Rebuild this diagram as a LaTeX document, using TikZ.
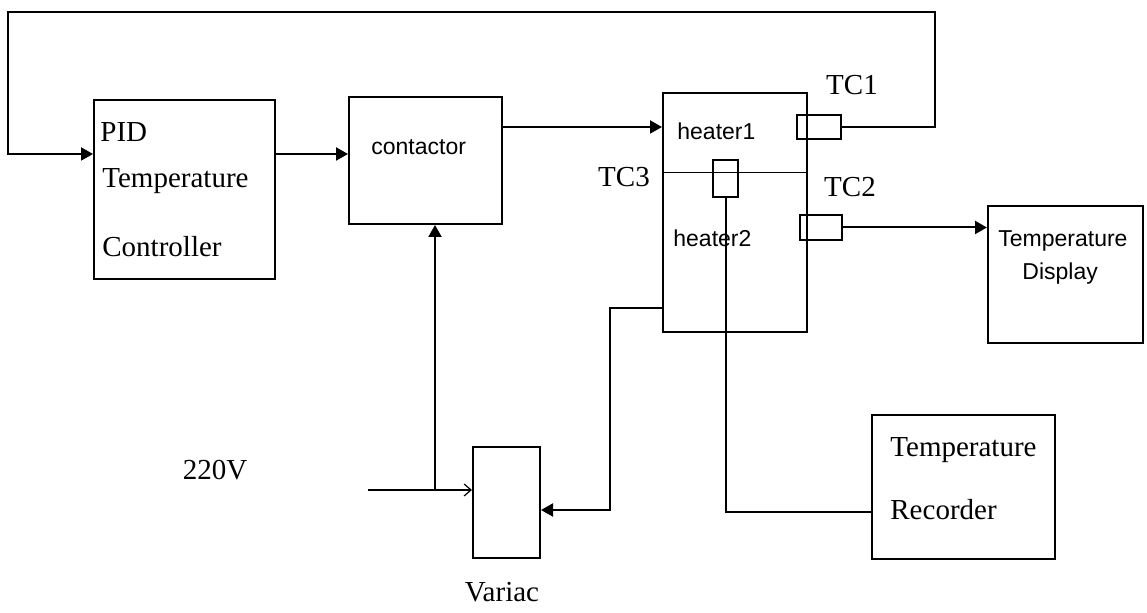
\documentclass[tikz,border=0pt]{standalone}
\usepackage{fontspec}
\setmainfont{Liberation Serif}
\setsansfont{Liberation Sans}
\usetikzlibrary{arrows.meta, positioning, calc}
\tikzset{
  % Equipment boxes
  block/.style 2 args={
    draw=black, line width=1pt, inner sep=0pt,
    minimum width=#1, minimum height=#2,
  },
  % Thermocouple boxes
  sensor/.style 2 args={
    draw=black, line width=0.9pt, inner sep=0pt,
    minimum width=#1, minimum height=#2,
  },
  % Texts
  serif lbl/.style={font=\fontsize{14.5}{16}\selectfont\rmfamily, inner sep=0pt},
  sans lbl/.style={font=\fontsize{11.5}{13}\selectfont\sffamily, inner sep=0pt},
  % Wires
  wire/.style={line width=1pt, black},
  pipe/.style={wire, -{Triangle[length=6pt, width=6.5pt]}},
  mains/.style={line width=0.6pt, black, -{Straight Barb[length=3.5pt, width=6pt]}},
}

\begin{document}
\begin{tikzpicture}[x=0.5pt, y=-0.5pt]

\useasboundingbox[fill=white] (0,0) rectangle (1147,613);

% ====================================================================
% Boxes
% ====================================================================
\node[block={90.5pt}{89.5pt}] (pid) at (184.5,189.5) {};
\node[serif lbl, anchor=base west] at (100,142) {PID};
\node[serif lbl, anchor=base west] at (102,188) {Temperature};
\node[serif lbl, anchor=base west] at (102,257) {Controller};

\node[block={76.5pt}{63.5pt}] (cont) at (425.5,160.5) {};
\node[sans lbl, anchor=base west] at (371,155) {contactor};

\node[block={72pt}{119.5pt}] (heater) at (735,212.5) {};
\coordinate (divl) at (663,173);
\coordinate (divr) at (806,173);
\draw[line width=0.5pt] (divl) -- (divr);
\node[sans lbl, anchor=base west] at (677,140) {heater1};
\node[sans lbl, anchor=base west] at (673,247) {heater2};

\node[block={77.5pt}{68.5pt}] (display) at (1065.5,274.5) {};
\node[sans lbl, anchor=base west] at (998,247) {Temperature};
\node[sans lbl, anchor=base west] at (1022,280) {Display};

\node[block={91.5pt}{72pt}] (recorder) at (963.5,487) {};
\node[serif lbl, anchor=base west] at (890,457) {Temperature};
\node[serif lbl, anchor=base west] at (890,520) {Recorder};

\node[block={33.5pt}{55.5pt}] (variac) at (506.5,502.5) {};
\node[serif lbl] (variaclbl) at (502,592) {Variac};

% ====================================================================
% Thermocouples
% ====================================================================
\node[sensor={22pt}{12pt}] (tcone) at (819,127) {};
\node[sensor={21pt}{12.5pt}] (tctwo) at (821,227.5) {};
\node[sensor={12.5pt}{18.5pt}] (tcthree) at (725.5,178.5) {};
\node[serif lbl] at (852,85) {TC1};
\node[serif lbl] at (850,187) {TC2};
\node[serif lbl] at (624,177) {TC3};

% ====================================================================
% Wires
% ====================================================================
% feedback loop TC1 -> controller
\coordinate (fbr) at (935,12);
\coordinate (fbl) at (8,154);
\draw[pipe] (tcone.east) -| (fbr) -| (fbl) -- (fbl -| pid.west);

\draw[pipe] (pid.east |- fbl) -- (cont.west |- fbl);
\draw[pipe] (cont.east |- tcone) -- (heater.west |- tcone);
\draw[pipe] (tctwo.east) -- (display.west |- tctwo);
\draw[wire] (tcthree.south) |- ([yshift=-12.5pt]recorder.west);

% heater2 -> variac
\coordinate (hv) at (610,308);
\draw[pipe] (heater.west |- hv) -- (hv) |- ([yshift=-3.75pt]variac.east);

% mains supply
\node[serif lbl] (supply) at (215,470) {220V};
\coordinate (mainsin) at (368,490);
\coordinate (tap) at (435,490);
\draw[mains] (mainsin) -- (mainsin -| variac.west);
\draw[pipe] (tap) -- (tap |- cont.south);

\end{tikzpicture}
\end{document}
